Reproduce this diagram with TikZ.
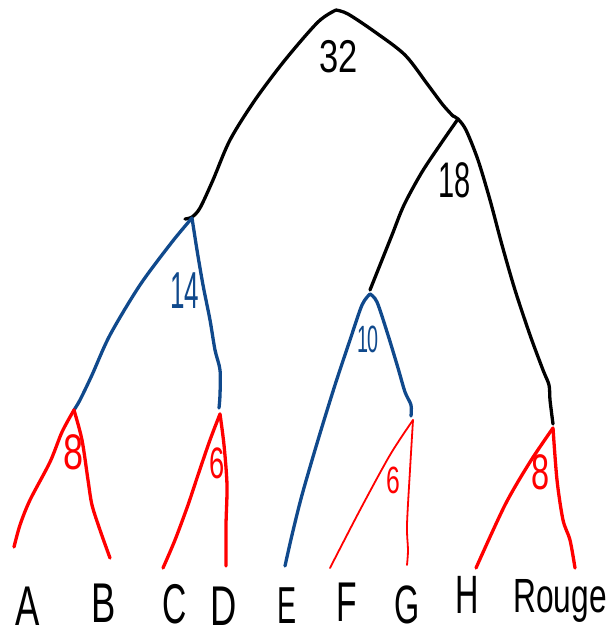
\documentclass[tikz,border=0pt]{standalone}
\usepackage{fontspec}
\setmainfont{Liberation Sans}
\definecolor{inkblue}{RGB}{16,73,140}
\definecolor{inkred}{RGB}{255,0,0}
\tikzset{
  blk/.style={draw=black,line width=3.3pt,line cap=round,line join=round},
  blu/.style={draw=inkblue,line width=3.3pt,line cap=round,line join=round},
  rd/.style={draw=inkred,line width=3.3pt,line cap=round,line join=round},
  rdthin/.style={draw=inkred,line width=1.8pt,line cap=round,line join=round},
  leaf/.style={inner sep=0pt,anchor=base},
  wt/.style={inner sep=0pt}
}
\newcommand{\hw}[3]{\scalebox{#2}[1]{\fontsize{#1}{#1}\selectfont #3}}
\begin{document}
\begin{tikzpicture}[x=1pt,y=-1pt]
\useasboundingbox (0,0) rectangle (610,638);
% internal vertices
\coordinate (root) at (336,10);
\coordinate (n18) at (458,119);
\coordinate (n14) at (192,218);
\coordinate (n10) at (370,294);
\coordinate (r8a) at (74,410);
\coordinate (r6a) at (220,414);
\coordinate (r6b) at (413,420);
\coordinate (r8b) at (553,428);
\coordinate (hend) at (553,424);
% leaf line ends
\coordinate (eA) at (14,547);
\coordinate (eB) at (110,558);
\coordinate (eC) at (163,568);
\coordinate (eD) at (226,566);
\coordinate (eE) at (285,566);
\coordinate (eF) at (330,568);
\coordinate (eG) at (407,565);
\coordinate (eH) at (476,568);
\coordinate (eR) at (575,568);
% black
\draw[blk] plot[smooth,tension=0.5] coordinates {(root) (318,22) (285,60) (255,100) (230,140) (213,180) (200,208) (192,217) (185,219)};
\draw[blk] plot[smooth,tension=0.5] coordinates {(root) (348,14) (375,32) (405,55) (428,85) (443,105) (453,116)};
\draw[blk] plot[smooth,tension=0.5] coordinates {(453,116) (n18) (466,130) (478,160) (490,200) (502,245) (515,290) (530,335) (543,370) (549,385) (550,400) (hend)};
\draw[blk] plot[smooth,tension=0.5] coordinates {(n18) (442,142) (422,172) (404,205) (392,235) (380,265) (370,290)};
% blue
\draw[blu] plot[smooth,tension=0.5] coordinates {(n14) (172,242) (140,285) (110,335) (92,375) (80,400) (r8a)};
\draw[blu] plot[smooth,tension=0.5] coordinates {(n14) (197,250) (203,285) (210,320) (215,350) (220,370) (220,395) (219,408)};
\draw[blu] plot[smooth,tension=0.5] coordinates {(n10) (362,305) (350,340) (335,385) (318,440) (302,495) (292,535) (eE)};
\draw[blu] plot[smooth,tension=0.5] coordinates {(n10) (377,302) (388,335) (398,368) (405,392) (411,405) (411,416)};
% red
\draw[rd] plot[smooth,tension=0.5] coordinates {(r8a) (62,432) (50,462) (30,500) (20,525) (eA)};
\draw[rd] plot[smooth,tension=0.5] coordinates {(r8a) (82,440) (88,480) (92,505) (100,530) (eB)};
\draw[rd] plot[smooth,tension=0.5] coordinates {(r6a) (210,440) (198,475) (188,505) (175,540) (eC)};
\draw[rd] plot[smooth,tension=0.5] coordinates {(r6a) (224,445) (227,485) (226,525) (eD)};
\draw[rdthin] plot[smooth,tension=0.5] coordinates {(r6b) (390,455) (360,510) (eF)};
\draw[rdthin] plot[smooth,tension=0.5] coordinates {(r6b) (410,470) (407,525) (408,550) (eG)};
\draw[rd] plot[smooth,tension=0.5] coordinates {(r8b) (530,462) (505,505) (eH)};
\draw[rd] plot[smooth,tension=0.5] coordinates {(r8b) (557,480) (563,520) (570,540) (eR)};
% weights
\node[wt] (w32) at (339,57) {\hw{46}{0.75}{32}};
\node[wt] (w18) at (455,180) {\hw{50}{0.58}{18}};
\node[wt,text=inkblue] (w14) at (185,291) {\hw{52}{0.5}{14}};
\node[wt,text=inkblue] (w10) at (368,339) {\hw{38}{0.52}{10}};
\node[wt,text=inkred] (w8a) at (74,452) {\hw{50}{0.72}{8}};
\node[wt,text=inkred] (w6a) at (217,463) {\hw{44}{0.62}{6}};
\node[wt,text=inkred] (w6b) at (393,480) {\hw{38}{0.65}{6}};
\node[wt,text=inkred] (w8b) at (541,472) {\hw{50}{0.65}{8}};
% leaves
\node[leaf] (A) at (28,625) {\hw{56}{0.65}{A}};
\node[leaf] (B) at (104,622) {\hw{56}{0.65}{B}};
\node[leaf] (C) at (175,623) {\hw{56}{0.6}{C}};
\node[leaf] (D) at (224,625) {\hw{56}{0.65}{D}};
\node[leaf] (E) at (287,623) {\hw{52}{0.55}{E}};
\node[leaf] (F) at (347,621) {\hw{56}{0.6}{F}};
\node[leaf] (G) at (407,623) {\hw{54}{0.6}{G}};
\node[leaf] (H) at (467,613) {\hw{54}{0.6}{H}};
\node[leaf] (Rouge) at (560,612) {\hw{48}{0.66}{Rouge}};
\end{tikzpicture}
\end{document}
